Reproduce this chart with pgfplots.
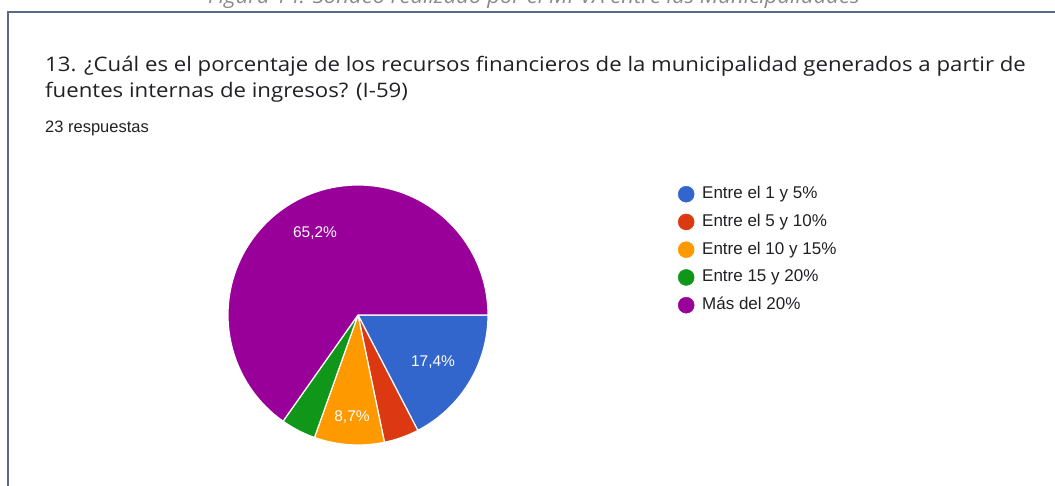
\documentclass[border=0pt]{standalone}
\usepackage{fontspec}
\setmainfont{Liberation Sans}
\newfontfamily\titlefont[FakeStretch=1.11]{Open Sans}
\newfontfamily\capfont[FakeStretch=1.05]{Open Sans}
\usepackage{pgfplots}
\pgfplotsset{compat=1.18}
\definecolor{gblue}{HTML}{3366CC}
\definecolor{gred}{HTML}{DC3912}
\definecolor{gorange}{HTML}{FF9900}
\definecolor{ggreen}{HTML}{109618}
\definecolor{gpurple}{HTML}{990099}
\definecolor{framec}{HTML}{5B6B86}
\definecolor{txt}{HTML}{202124}
\definecolor{capc}{HTML}{8A8A8A}
\begin{document}
\begin{tikzpicture}[x=1pt,y=1pt]
\useasboundingbox (0,0) rectangle (1055,486);
\clip (0,0) rectangle (1055,486);
\fill[white] (0,0) rectangle (1055,486);
\begin{axis}[
  at={(0,0)}, anchor=south west,
  scale only axis, width=1055pt, height=486pt,
  xmin=0, xmax=1055, ymin=0, ymax=486,
  hide axis, clip=false,
  legend style={at={(axis cs:675,302)}, anchor=north west, draw=none, fill=none,
    font=\fontsize{17}{20}\selectfont, text=txt,
    nodes={inner sep=0pt, text height=12.5pt, text depth=3.5pt},
    row sep=11.75pt, column sep=8pt},
  legend cell align=left,
]
% counts out of 23 responses
\def\total{23}
\fill[gblue, draw=white, line width=1.2pt] (axis cs:358,171) -- ++(0:130pt) arc[start angle=0, end angle={-360*4/\total}, radius=130pt] -- cycle;
\fill[gred, draw=white, line width=1.2pt] (axis cs:358,171) -- ++({-360*4/\total}:130pt) arc[start angle={-360*4/\total}, end angle={-360*5/\total}, radius=130pt] -- cycle;
\fill[gorange, draw=white, line width=1.2pt] (axis cs:358,171) -- ++({-360*5/\total}:130pt) arc[start angle={-360*5/\total}, end angle={-360*7/\total}, radius=130pt] -- cycle;
\fill[ggreen, draw=white, line width=1.2pt] (axis cs:358,171) -- ++({-360*7/\total}:130pt) arc[start angle={-360*7/\total}, end angle={-360*8/\total}, radius=130pt] -- cycle;
\fill[gpurple, draw=white, line width=1.2pt] (axis cs:358,171) -- ++({-360*8/\total}:130pt) arc[start angle={-360*8/\total}, end angle={-360*23/\total}, radius=130pt] -- cycle;

\node[text=white, font=\fontsize{15.5}{18}\selectfont] at (axis cs:433,124) {17,4\%};
\node[text=white, font=\fontsize{15.5}{18}\selectfont] at (axis cs:352,69) {8,7\%};
\node[text=white, font=\fontsize{15.5}{18}\selectfont] at (axis cs:315,253) {65,2\%};

\draw[framec, line width=2pt] (axis cs:8,-5) -- (axis cs:8,474) -- (axis cs:1065,474);
\node[anchor=base, text=capc, font=\capfont\itshape\fontsize{21}{26}\selectfont] at (axis cs:534,482) {Figura 14: Sondeo realizado por el MPVA entre las Municipalidades};
\node[anchor=base west, inner sep=0pt, text=txt, font=\titlefont\fontsize{20}{24}\selectfont] at (axis cs:45,414) {13. ¿Cuál es el porcentaje de los recursos financieros de la municipalidad generados a partir de};
\node[anchor=base west, inner sep=0pt, text=txt, font=\titlefont\fontsize{20}{24}\selectfont] at (axis cs:45,388) {fuentes internas de ingresos? (I-59)};
\node[anchor=base west, inner sep=0pt, text=txt, font=\fontsize{16.5}{20}\selectfont] at (axis cs:45,353) {23 respuestas};

\addlegendimage{only marks, mark=*, mark size=8pt, color=gblue}
\addlegendentry{Entre el 1 y 5\%}
\addlegendimage{only marks, mark=*, mark size=8pt, color=gred}
\addlegendentry{Entre el 5 y 10\%}
\addlegendimage{only marks, mark=*, mark size=8pt, color=gorange}
\addlegendentry{Entre el 10 y 15\%}
\addlegendimage{only marks, mark=*, mark size=8pt, color=ggreen}
\addlegendentry{Entre 15 y 20\%}
\addlegendimage{only marks, mark=*, mark size=8pt, color=gpurple}
\addlegendentry{Más del 20\%}
\end{axis}
\end{tikzpicture}
\end{document}
